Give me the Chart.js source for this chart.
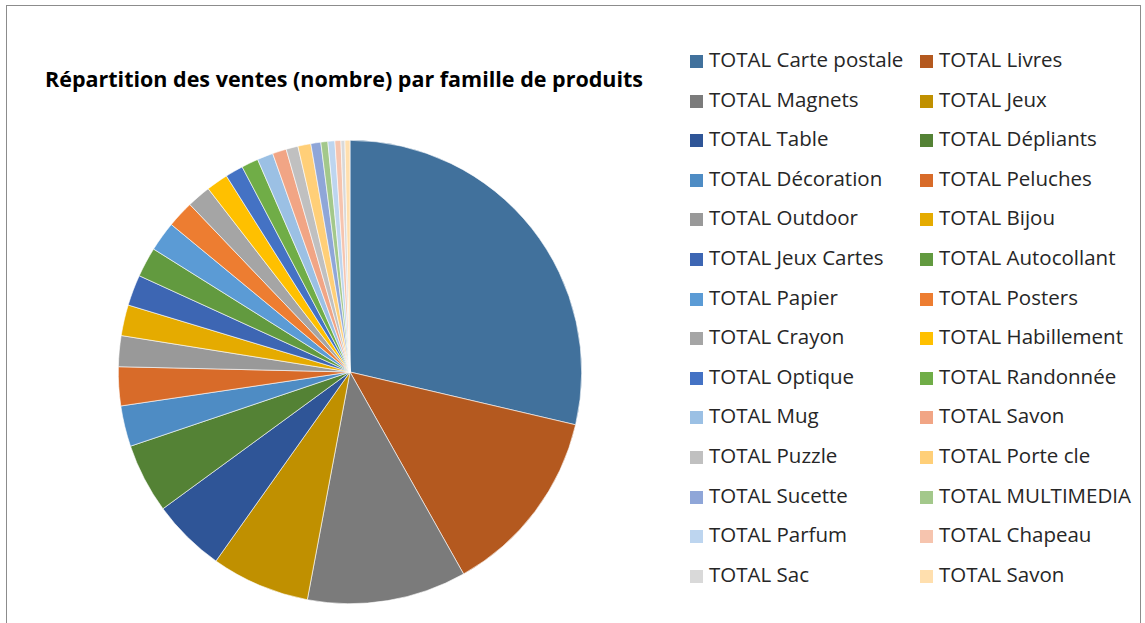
<!DOCTYPE html>
<html>
<head>
<meta charset="utf-8">
<script src="https://cdn.jsdelivr.net/npm/chart.js@4.4.0/dist/chart.umd.min.js"></script>
<style>
  body { margin: 0; background: #fff; width: 1145px; height: 623px; overflow: hidden; position: relative; }
  #cadre { position: absolute; left: 6px; top: 5px; width: 1135px; height: 700px; border: 1px solid #8c8c8c; box-sizing: border-box; }
  #titre { position: absolute; left: 45px; top: 64px; font-family: "Open Sans", sans-serif; font-weight: bold; font-size: 21.5px; color: #000; white-space: nowrap; }
  #zonePie { position: absolute; left: 118px; top: 140px; width: 464px; height: 464px; }
  #legende { position: absolute; left: 690px; top: 44px; font-family: "Open Sans", sans-serif; font-size: 20.5px; color: #262626; }
  .item { position: absolute; white-space: nowrap; height: 30px; line-height: 30px; }
  .carre { display: inline-block; width: 13px; height: 13px; margin-right: 6px; vertical-align: -1px; }
</style>
</head>
<body>
<div id="cadre"></div>
<div id="titre">Répartition des ventes (nombre) par famille de produits</div>
<div id="zonePie"><canvas id="graphiquePie"></canvas></div>
<div id="legende"></div>
<script>
const familles = ['TOTAL Carte postale', 'TOTAL Livres', 'TOTAL Magnets', 'TOTAL Jeux', 'TOTAL Table', 'TOTAL Dépliants',
    'TOTAL Décoration', 'TOTAL Peluches', 'TOTAL Outdoor', 'TOTAL Bijou', 'TOTAL Jeux Cartes', 'TOTAL Autocollant',
    'TOTAL Papier', 'TOTAL Posters', 'TOTAL Crayon', 'TOTAL Habillement', 'TOTAL Optique', 'TOTAL Randonnée',
    'TOTAL Mug', 'TOTAL Savon', 'TOTAL Puzzle', 'TOTAL Porte cle', 'TOTAL Sucette', 'TOTAL MULTIMEDIA',
    'TOTAL Parfum', 'TOTAL Chapeau', 'TOTAL Sac', 'TOTAL Savon'];

const ventes = [413, 190, 160, 99, 74, 70,
    41, 39, 31, 31, 31, 30,
    30, 27, 24, 22, 18, 17,
    16, 14, 12, 13, 10, 7,
    7, 6, 4, 5];

const couleurs = ['#41719C', '#B4591F', '#7B7B7B', '#C09000', '#2F5597', '#548235',
    '#4E8CC4', '#D86B29', '#999999', '#E5AB00', '#3D66B3', '#629A3F',
    '#5B9BD5', '#ED7D31', '#A5A5A5', '#FFC000', '#4472C4', '#70AD47',
    '#9BC0E4', '#F1A585', '#C0C0C0', '#FFCF78', '#8FA6D8', '#A3C88B',
    '#BDD5EF', '#F6C4AE', '#D9D9D9', '#FFDFAE'];

// legende en 2 colonnes, ordre ligne par ligne comme dans Excel
const legende = document.getElementById('legende');
for (let i = 0; i < familles.length; i++) {
    let item = document.createElement('div');
    item.setAttribute('class', 'item');
    item.style.left = (i % 2 == 0 ? 0 : 230) + 'px';
    item.style.top = (Math.floor(i / 2) * 39.6) + 'px';
    item.innerHTML = `<span class="carre" style="background:${couleurs[i]}"></span>${familles[i]}`;
    legende.appendChild(item);
}

const data = {
    labels: familles,
    datasets: [{
        data: ventes,
        backgroundColor: couleurs,
        borderColor: '#ffffff',
        borderWidth: 0.6
    }]
};

const config = {
    type: 'pie',
    data: data,
    options: {
        responsive: true,
        maintainAspectRatio: false,
        animation: false,
        layout: { padding: 0 },
        plugins: {
            legend: { display: false },
            tooltip: { enabled: false }
        }
    }
};

const grafique = new Chart(document.getElementById('graphiquePie'), config);
</script>
</body>
</html>
